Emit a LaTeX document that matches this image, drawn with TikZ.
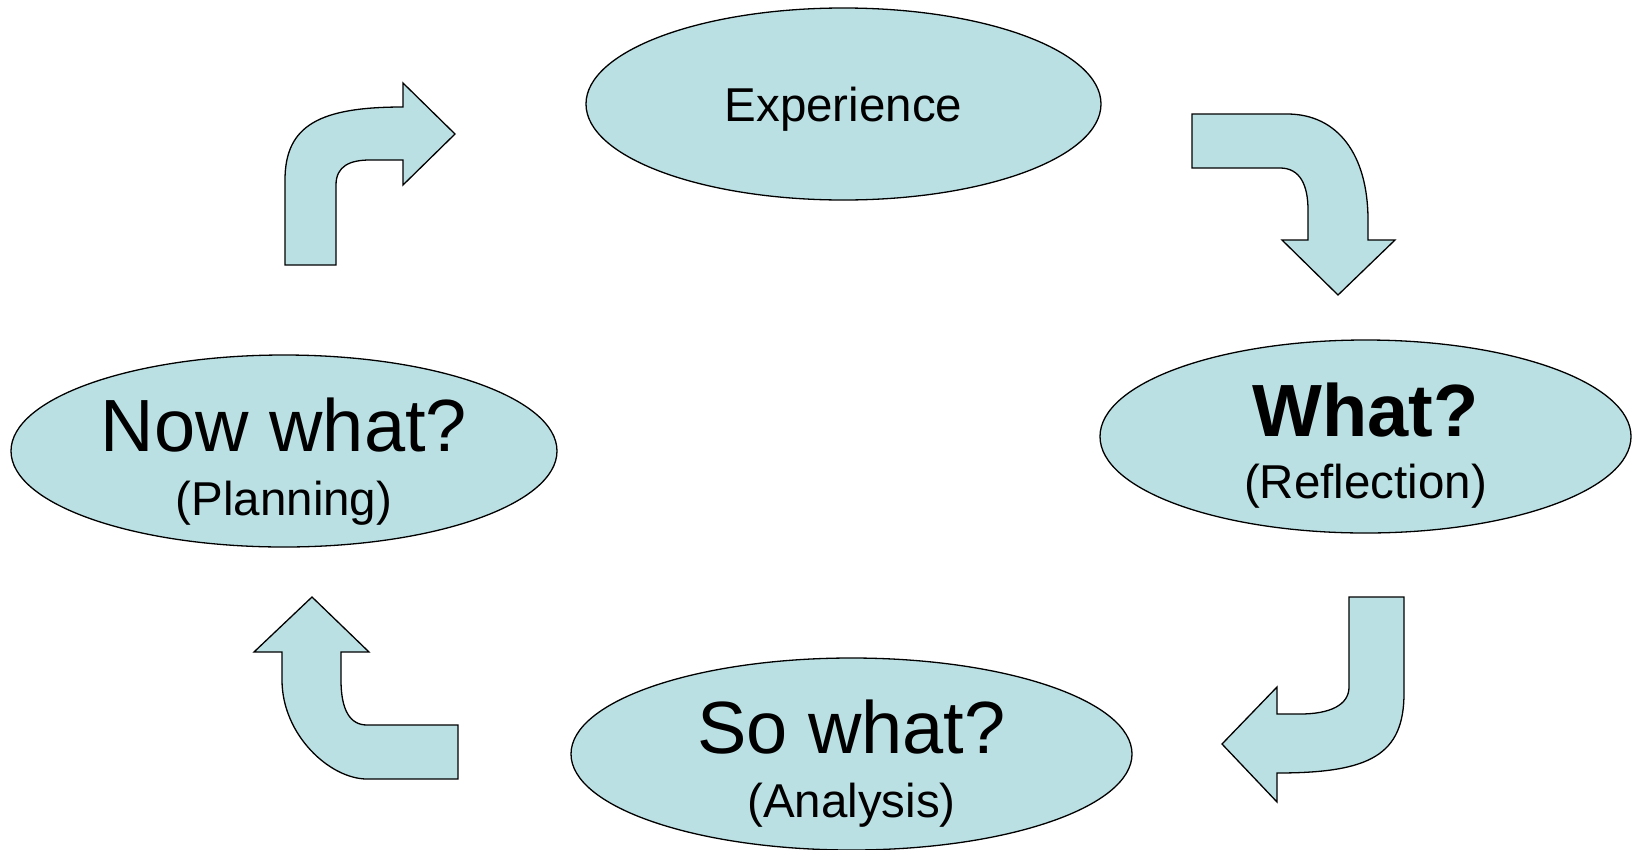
\documentclass[tikz,border=0pt]{standalone}
\usepackage{fontspec}
\setmainfont{Liberation Sans}
\usepackage{tikz}
\definecolor{cyclefill}{RGB}{187,224,227}
\usetikzlibrary{shapes.geometric}

\tikzset{
  stage/.style={ellipse, draw=black, fill=cyclefill, line width=1.3pt, inner sep=0pt},
  bigtext/.style={anchor=base, inner sep=0pt, font=\fontsize{74}{74}\selectfont},
  smalltext/.style={anchor=base, inner sep=0pt, font=\fontsize{47.5}{48}\selectfont},
  bentarrow/.style={draw=black, fill=cyclefill, line width=1.3pt, line join=miter}
}

\begin{document}
\begin{tikzpicture}[x=1pt, y=-1pt]
\useasboundingbox (0,0) rectangle (1632,849);

\node[stage, minimum width=515pt, minimum height=192pt] (exp) at (843.5,104) {};
\node[stage, minimum width=531pt, minimum height=193pt] (what) at (1365.5,436.5) {};
\node[stage, minimum width=561pt, minimum height=192pt] (sowhat) at (851.5,754) {};
\node[stage, minimum width=546pt, minimum height=192pt] (nowwhat) at (284,451) {};

\node[smalltext] (expT) at ([yshift=-17pt]exp.center) {Experience};
\node[bigtext] (whatT) at (what.center) {\bfseries What?};
\node[smalltext] (whatS) at ([yshift=-62pt]what.center) {(Reflection)};
\node[bigtext] (sowhatT) at ([yshift=1pt]sowhat.center) {So what?};
\node[smalltext] (sowhatS) at ([yshift=-63pt]sowhat.center) {(Analysis)};
\node[bigtext] (nowwhatT) at (nowwhat.center) {Now what?};
\node[smalltext] (nowwhatS) at ([yshift=-64pt]nowwhat.center) {(Planning)};

\draw[bentarrow] (285,265) -- (285,180) .. controls (285,125) and (320,107) .. (403,107)
  -- (403,83) -- (455,134) -- (403,185) -- (403,160) -- (370,160)
  .. controls (350,160) and (336,166) .. (336,185) -- (336,265) -- cycle;
\draw[bentarrow] (1192,114) -- (1287,114) .. controls (1338,114) and (1368,155) .. (1368,220)
  -- (1368,240) -- (1395,240) -- (1338,295) -- (1282,240) -- (1308,240) -- (1308,210)
  .. controls (1308,185) and (1300,168) .. (1280,168) -- (1192,168) -- cycle;
\draw[bentarrow] (1349,597) -- (1404,597) -- (1404,693) .. controls (1404,755) and (1370,773) .. (1277,773)
  -- (1277,802) -- (1222,744) -- (1277,687) -- (1277,714) -- (1300,714)
  .. controls (1330,714) and (1349,705) .. (1349,687) -- cycle;
\draw[bentarrow] (458,779) -- (367,779) .. controls (330,779) and (282,735) .. (282,680)
  -- (282,652) -- (254,652) -- (312,597) -- (369,652) -- (341,652) -- (341,680)
  .. controls (341,710) and (350,725) .. (367,725) -- (458,725) -- cycle;

\end{tikzpicture}
\end{document}
